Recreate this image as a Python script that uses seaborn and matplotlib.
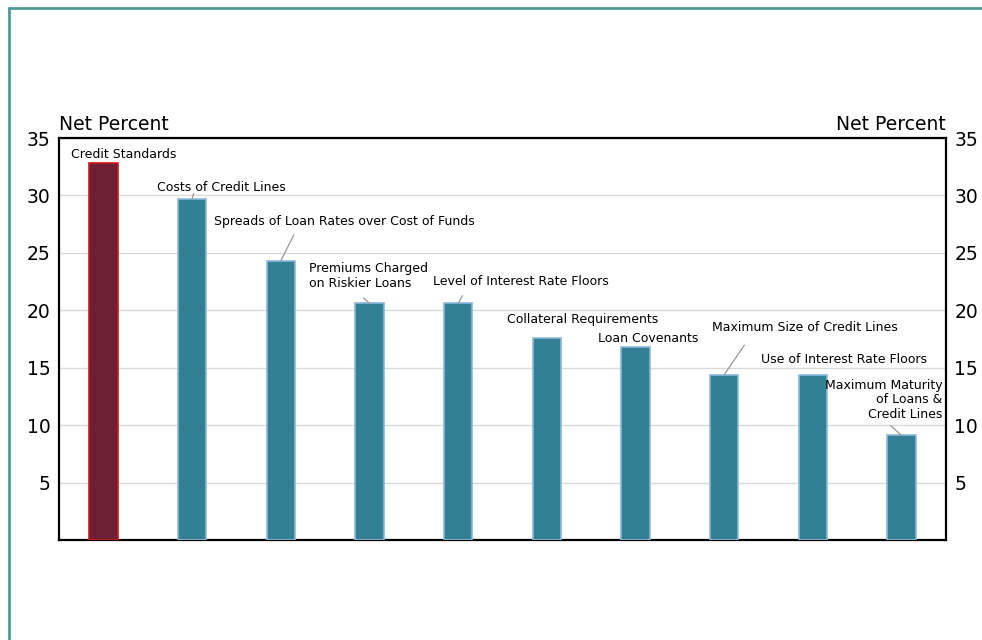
import matplotlib
matplotlib.use("Agg")
import matplotlib.pyplot as plt
from matplotlib.lines import Line2D
import seaborn as sns
import pandas as pd

categories = [
    "Credit Standards",
    "Costs of Credit Lines",
    "Spreads of Loan Rates over Cost of Funds",
    "Premiums Charged\non Riskier Loans",
    "Level of Interest Rate Floors",
    "Collateral Requirements",
    "Loan Covenants",
    "Maximum Size of Credit Lines",
    "Use of Interest Rate Floors",
    "Maximum Maturity\nof Loans &\nCredit Lines",
]
values = [32.8, 29.7, 24.3, 20.6, 20.6, 17.6, 16.8, 14.4, 14.4, 9.1]
yticks = [5, 10, 15, 20, 25, 30, 35]

# label positions (data units), alignment, and optional leader end point
label_pos = [(0.23, 33.6), (1.33, 30.7), (2.72, 27.7), (2.99, 23.0), (4.71, 22.5),
             (5.40, 19.2), (6.14, 17.5), (7.91, 18.5), (8.35, 15.7), (9.46, 12.2)]
label_ha = ["center", "center", "center", "center", "center",
            "center", "center", "center", "center", "right"]
leader_end = [None, (1.02, 30.2), (2.15, 26.6), (2.93, 21.1), (4.05, 21.3),
              None, None, (7.23, 17.0), None, (8.87, 10.0)]

maroon = "#6D1F33"
teal = "#337F93"
colors = [maroon] + [teal] * 9
edges = ["#D01818"] + ["#8CB8DC"] * 9

sns.set_theme(style="white")
plt.rcParams["font.family"] = ["DejaVu Sans"]
plt.rcParams["text.color"] = "black"
plt.rcParams["ytick.color"] = "black"

fig = plt.figure(figsize=(9.82, 6.4), dpi=100)
ax = fig.add_axes([59 / 982, 1 - 540 / 640, (946 - 59) / 982, (540 - 138) / 640])

df = pd.DataFrame({"cat": categories, "val": values})
sns.barplot(data=df, x="cat", y="val", hue="cat", palette=colors, legend=False,
            width=0.32, ax=ax, saturation=1, dodge=False, zorder=3)
for p, ec in zip(ax.patches, edges):
    p.set_edgecolor(ec)
    p.set_linewidth(1.2)

ax.set_ylim(0, 35)
ax.set_xlim(-0.5, len(categories) - 0.5)
ax.set_yticks(yticks)
ax.set_yticklabels([str(t) for t in yticks], fontsize=13.5, color="black")
ax.set_xticks([])
ax.set_xlabel("")
ax.set_ylabel("")
ax.yaxis.grid(True, color="#D9D9D9", linewidth=1, zorder=0)
ax.set_axisbelow(True)
ax.tick_params(axis="y", length=0, pad=6)
for s in ax.spines.values():
    s.set_visible(True)
    s.set_color("black")
    s.set_linewidth(1.6)

ax2 = ax.twinx()
ax2.set_ylim(0, 35)
ax2.set_yticks(yticks)
ax2.set_yticklabels([str(t) for t in yticks], fontsize=13.5, color="black")
ax2.tick_params(axis="y", length=0, pad=6)
for s in ax2.spines.values():
    s.set_visible(False)

ax.text(0, 1.01, "Net Percent", transform=ax.transAxes, ha="left", va="bottom",
        fontsize=13.5, color="black")
ax.text(1, 1.01, "Net Percent", transform=ax.transAxes, ha="right", va="bottom",
        fontsize=13.5, color="black")

for i, (lab, (tx, ty), ha, le) in enumerate(zip(categories, label_pos, label_ha, leader_end)):
    ma = "left" if i == 3 else ("right" if i == 9 else "center")
    ax.text(tx, ty, lab, ha=ha, va="center", fontsize=9, multialignment=ma,
            linespacing=1.15, zorder=5, color="black")
    if le is not None:
        ax.plot([i, le[0]], [values[i], le[1]], color="#999999", linewidth=0.9,
                zorder=4, solid_capstyle="butt")

# outer frame (left and top teal lines)
fig.add_artist(Line2D([9 / 982, 9 / 982], [0, 1 - 8 / 640], color="#4E9A9A", linewidth=2))
fig.add_artist(Line2D([9 / 982, 1], [1 - 8 / 640, 1 - 8 / 640], color="#4E9A9A", linewidth=2))

fig.savefig("out.png", dpi=100)
